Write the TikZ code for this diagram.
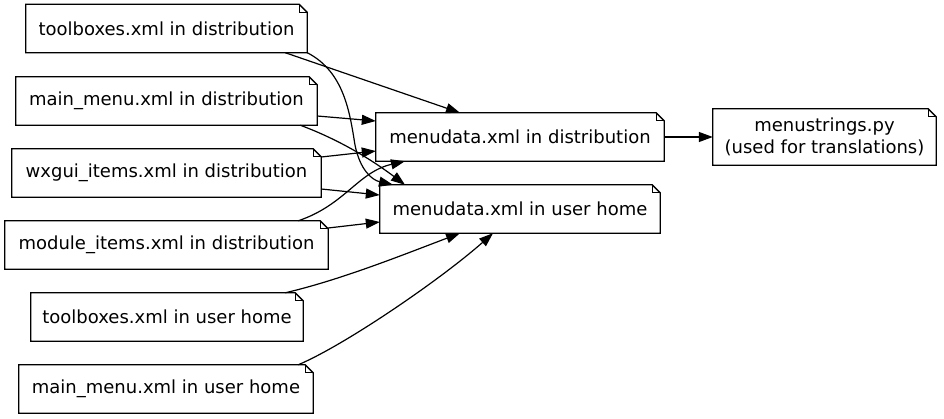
\documentclass[tikz,border=0pt]{standalone}
\usepackage{fontspec}
\setmainfont{DejaVu Sans}
\usetikzlibrary{arrows.meta}
\tikzset{
  notebox/.style={draw=none, rectangle, inner sep=0pt, minimum height=48pt, align=center,
    font=\fontsize{18}{22}\selectfont},
  edge/.style={line width=1.2pt, -{Triangle[length=14pt,width=10pt]}},
  outline/.style={line width=1.3pt, line join=miter}
}
\newcommand{\noteoutline}[1]{%
  \draw[outline] (#1.north west) -- ([xshift=-8pt]#1.north east) -- ([yshift=-8pt]#1.north east)
    -- (#1.south east) -- (#1.south west) -- cycle;
  \draw[line width=1pt] ([xshift=-8pt]#1.north east) -- ([xshift=-8pt,yshift=-8pt]#1.north east)
    -- ([yshift=-8pt]#1.north east);
}
\begin{document}
\begin{tikzpicture}[x=1pt,y=-1pt]
\useasboundingbox (0,0) rectangle (944,419);
\fill[white] (0,0) rectangle (944,419);

\node[notebox, minimum width=281pt] (td) at (166.5,28.5) {toolboxes.xml in distribution};
\node[notebox, minimum width=301pt] (md) at (166.5,101) {main\_menu.xml in distribution};
\node[notebox, minimum width=309pt] (wx) at (166.5,173) {wxgui\_items.xml in distribution};
\node[notebox, minimum width=323pt] (mi) at (166.5,245) {module\_items.xml in distribution};
\node[notebox, minimum width=272pt] (tu) at (167,317) {toolboxes.xml in user home};
\node[notebox, minimum width=294pt] (mu) at (166,389) {main\_menu.xml in user home};
\node[notebox, minimum width=288pt] (mdd) at (520,137) {menudata.xml in distribution};
\node[notebox, minimum width=280pt] (mdu) at (520,209) {menudata.xml in user home};
\node[notebox, minimum width=223pt, minimum height=56pt] (ms) at (824.5,137) {menustrings.py\\(used for translations)};

\foreach \n in {td,md,wx,mi,tu,mu,mdd,mdu,ms} {\noteoutline{\n}}

% edges
\draw[edge] ([xshift=-22pt]td.south east) -- ([xshift=-60pt]mdd.north);
\draw[edge] (td.south east) .. controls (345,72) and (350,115) .. (355,145)
  .. controls (360,170) and (372,180) .. ([xshift=-127pt]mdu.north);
\draw[edge] ([yshift=-15pt]md.east) -- ([yshift=16pt]mdd.west);
\draw[edge] ([xshift=-17pt]md.south east) .. controls (340,140) and (372,160) .. ([xshift=-115pt]mdu.north);
\draw[edge] ([yshift=16pt]wx.east) -- ([yshift=-14pt]mdd.west);
\draw[edge] ([yshift=-16pt]wx.east) -- ([yshift=14pt]mdu.west);
\draw[edge] ([xshift=-30pt]mi.north east) .. controls (345,205) and (358,172) .. ([xshift=-115pt]mdd.south);
\draw[edge] ([yshift=17pt]mi.east) -- ([yshift=-13pt]mdu.west);
\draw[edge] ([xshift=-18pt]tu.north east) .. controls (340,280) and (400,256) .. ([xshift=-60pt]mdu.south);
\draw[edge] ([xshift=-15pt]mu.north east) .. controls (345,345) and (440,280) .. ([xshift=-27pt]mdu.south);
\draw[edge] (mdd.east) -- (ms.west);
\end{tikzpicture}
\end{document}
